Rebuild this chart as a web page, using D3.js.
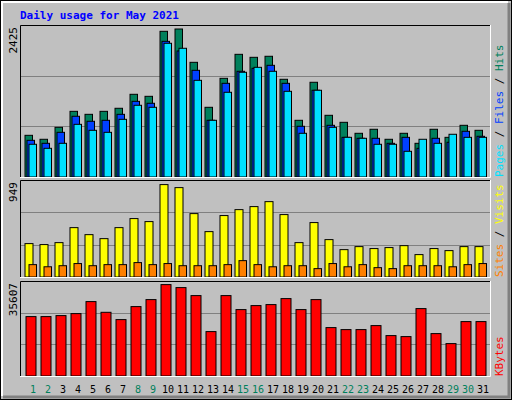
<!DOCTYPE html><html><head><meta charset="utf-8"><script src="https://cdn.jsdelivr.net/npm/d3@7"></script>
<style>body{margin:0;background:#fff}svg{display:block}</style></head><body><script>
const days=d3.range(1,32);
const weekend=[1,2,8,9,15,16,22,23,29,30];
const hits=[683,618,814,1076,1027,1076,1126,1355,1322,2387,2425,1879,1142,1617,2010,1961,1978,1601,929,1552,1011,896,716,782,618,716,552,782,650,847,765];
const files=[601,552,732,995,913,929,1027,1240,1208,2223,2065,1748,929,1535,1732,1781,1830,1535,831,1421,847,650,634,634,552,650,470,634,569,749,667];
const pages=[536,470,552,863,765,732,945,1175,1142,2191,2109,1584,929,1388,1716,1797,1732,1404,716,1421,814,650,634,536,536,421,618,552,700,650,650];
const visits=[343,333,353,507,435,394,507,600,569,949,918,651,466,631,692,723,774,641,353,559,384,281,312,292,302,322,230,292,271,312,312];
const sites=[127,105,116,138,116,127,127,148,127,138,116,116,116,127,168,127,105,116,116,86,138,105,127,96,86,116,116,116,105,127,138];
const kbytes=[23142,23142,23532,24311,28987,24817,21973,27038,29766,35607,34441,31324,17298,31324,25870,27428,27818,30155,25870,29766,18857,18078,18078,19636,15740,15350,26259,16519,12623,21194,21194];
const maxLabels=["2425","949","35607"];

const svg=d3.select("body").append("svg").attr("width",512).attr("height",400);
svg.append("rect").attr("width",512).attr("height",400).attr("fill","#c0c0c0");
svg.append("rect").attr("x",0.5).attr("y",0.5).attr("width",511).attr("height",399).attr("fill","none").attr("stroke","#000");
svg.append("path").attr("d","M2,396V2H508").attr("stroke","#fff").attr("stroke-width",2).attr("fill","none");
svg.append("path").attr("d","M509,3V397H3").attr("stroke","#808080").attr("stroke-width",3).attr("fill","none");
svg.append("text").attr("x",20).attr("y",19).text("Daily usage for May 2021")
 .attr("font-family","DejaVu Sans Mono").attr("font-weight","bold").attr("font-size",11).attr("fill","#0000ff");

const x=d3.scaleBand().domain(days).range([20,485]).paddingInner(0);
const X0=d=>25+(d-1)*15;

function panel(y0,y1,top,series,label,yTopRatio){
  svg.append("rect").attr("x",20).attr("y",y0).attr("width",470).attr("height",y1-y0).attr("fill","#c0c0c0");
  const y=d3.scaleLinear().domain([0,top]).range([y1,y1-(y1-y0)*yTopRatio]);
  const gy=d3.scaleLinear().domain([0,3]).range([y1,y0]);
  [1,2].forEach(k=>svg.append("line").attr("x1",20).attr("x2",490).attr("y1",Math.round(gy(k))+.5).attr("y2",Math.round(gy(k))+.5).attr("stroke","#808080"));
  series.forEach(s=>{
    svg.append("g").selectAll("rect").data(s.data).join("rect")
     .attr("x",(v,i)=>X0(i+1)+s.off).attr("width",s.w)
     .attr("y",v=>y(v)).attr("height",v=>y1-y(v))
     .attr("fill",s.c).attr("stroke","#000").attr("stroke-width",1);
  });
  svg.append("path").attr("d",`M20.5,${y1}V${y0+.5}H490`).attr("stroke","#000").attr("fill","none");
  svg.append("path").attr("d",`M490.5,${y0}V${y1+.5}H20`).attr("stroke","#fff").attr("fill","none");
  svg.append("text").attr("transform",`translate(17,${y0+2}) rotate(-90)`).attr("text-anchor","end")
   .attr("font-family","DejaVu Sans Mono").attr("font-size",11).attr("fill","#000").text(label);
}
panel(25,177,2425,[
 {data:hits,off:0,w:7.5,c:"#00805c"},
 {data:files,off:2,w:7.5,c:"#0040ff"},
 {data:pages,off:4,w:7.5,c:"#00e0ff"}],maxLabels[0],148/152);
panel(180,277,949,[
 {data:visits,off:0,w:8,c:"#ffff00"},
 {data:sites,off:4,w:7.5,c:"#ff8000"}],maxLabels[1],92.4/97);
panel(281,376,35607,[
 {data:kbytes,off:1,w:10,c:"#ff0000"}],maxLabels[2],91.4/95);

function rlabel(yb,parts){
  const t=svg.append("text").attr("transform",`translate(503,${yb}) rotate(-90)`)
   .attr("font-family","DejaVu Sans Mono").attr("font-size",11);
  parts.forEach(p=>t.append("tspan").attr("fill",p[1]).text(p[0]));
}
rlabel(177,[["Pages","#00e0ff"],[" / ","#000"],["Files","#0040ff"],[" / ","#000"],["Hits","#00805c"]]);
rlabel(277,[["Sites","#ff8000"],[" / ","#000"],["Visits","#ffff00"]]);
rlabel(376,[["KBytes","#ff0000"]]);

svg.append("g").selectAll("text").data(days).join("text")
 .attr("x",d=>X0(d)+8).attr("y",393).attr("text-anchor","middle")
 .attr("font-family","DejaVu Sans Mono").attr("font-size",10)
 .attr("fill",d=>weekend.includes(d)?"#00805c":"#000").text(d=>d);
</script></body></html>
